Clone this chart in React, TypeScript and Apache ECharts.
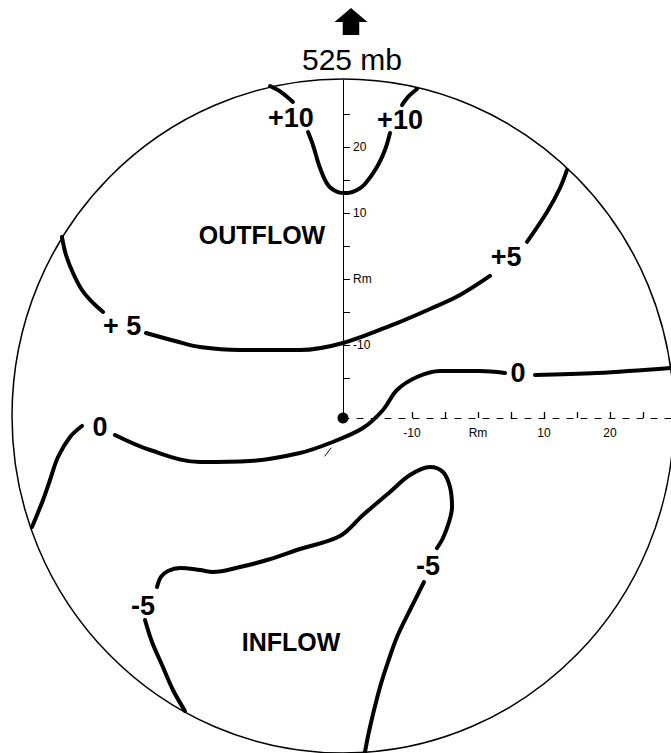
import React, { useEffect, useRef } from "react";
import * as echarts from "echarts";

// Data frame: units of the figure's distance scale, origin at the storm centre, y up.
const plus10West = [[-11.06, 50.3], [-9.39, 49.39], [-7.58, 47.88]];
const plus10Trough = [
  [-5.3, 43.33], [-4.55, 41.36], [-3.48, 37.88], [-2.27, 35.3], [-0.76, 34.24],
  [0.61, 34.09], [2.12, 34.55], [3.33, 35.45], [5.15, 38.03], [6.36, 40.61], [7.12, 43.18],
];
const plus10East = [[8.94, 47.42], [10.0, 48.79], [11.21, 49.85]];

const plus5West = [
  [-42.58, 27.42], [-41.97, 24.7], [-40.91, 21.97], [-39.55, 19.39], [-38.03, 17.58], [-36.36, 16.06],
];
const plus5Middle = [
  [-29.85, 12.88], [-25.45, 11.67], [-21.67, 10.76], [-15.61, 10.3], [-6.52, 10.3], [0, 11.36],
  [8.18, 14.39], [13.18, 16.52], [17.73, 18.64], [22.27, 21.52],
];
const plus5East = [[27.88, 26.67], [30.91, 31.21], [32.88, 34.85], [33.94, 37.58]];

const zeroWest = [
  [-47.12, -16.52], [-45.45, -12.42], [-44.39, -9.39], [-43.18, -5.91], [-41.36, -2.88], [-39.55, -1.21],
];
const zeroMiddle = [
  [-34.55, -2.58], [-29.24, -4.85], [-21.67, -6.67], [-14.09, -6.52], [-6.52, -5.3], [-1.97, -3.79],
  [3.03, -1.52], [6.06, 1.21], [8.18, 4.24], [11.21, 6.21], [14.7, 7.12], [20.76, 7.12], [24.55, 6.82],
];
const zeroEast = [[29.09, 6.52], [38.48, 6.82], [49.55, 7.58]];

const minus5SouthWest = [
  [-30.0, -30.61], [-28.94, -33.94], [-27.42, -37.42], [-25.76, -41.21], [-23.94, -44.39],
];
const minus5Loop = [
  [-28.18, -25.61], [-27.58, -24.09], [-26.52, -23.18], [-24.7, -22.73], [-21.67, -23.03],
  [-19.7, -23.33], [-15.61, -22.58], [-11.52, -21.52], [-6.52, -19.85], [-0.45, -17.88],
  [3.03, -14.7], [7.12, -11.21], [10.15, -8.64], [13.18, -7.42], [15.15, -8.18], [16.21, -10.45],
  [16.52, -13.48], [16.06, -15.76], [15.15, -18.18], [14.24, -19.7],
];
const minus5South = [
  [12.27, -24.85], [10.15, -29.09], [8.18, -33.18], [6.82, -36.97], [5.61, -40.76], [4.09, -46.82], [3.33, -50.61],
];

const contourLabels = [
  { text: "+10", pos: [-7.88, 45.45] },
  { text: "+10", pos: [8.64, 45.15] },
  { text: "+5", pos: [24.7, 24.39] },
  { text: "+ 5", pos: [-33.48, 13.94] },
  { text: "0", pos: [26.52, 6.82] },
  { text: "0", pos: [-36.82, -1.36] },
  { text: "-5", pos: [12.88, -22.42] },
  { text: "-5", pos: [-30.3, -28.48] },
];
const regionLabels = [
  { text: "OUTFLOW", pos: [-12.27, 27.73] },
  { text: "INFLOW", pos: [-7.88, -33.94] },
];
const titleText = "525 mb";
const titlePos = [1.36, 54.39];
const arrowPos = [1.21, 60.08];
const stormCentre = [0, 0];
const slashMark = [[-2.73, -5.76], [-1.82, -4.55]];

// Frame (ellipse) centre and semi-axes in data units
const frameCentre = [0, 0.3];
const frameRadii = [50.15, 51.06];

// Axis scales relative to Rm
const radialTicks = [-15, -10, -5, 0, 5, 10, 15, 20, 25];
const radialLabels = [-10, 0, 10, 20];
const tangentialTicks = [-10, -5, 0, 5, 10, 15, 20, 25];
const tangentialLabels = [-10, 0, 10, 20];
const rmOffsetX = 20.45;
const rmOffsetY = 21.06;

const W = 671;
const H = 753;
const PX = 6.6;
const CX = 343;
const CY = 418;
const FONT = "'Liberation Sans', Arial, sans-serif";

const fmt = (v: any) => (Number(v) === 0 ? "Rm" : String(v));

export default function App() {
  const ref = useRef<HTMLDivElement>(null);
  useEffect(() => {
    if (!ref.current) return;
    const chart = echarts.init(ref.current, undefined, { renderer: "svg" });
    const lineS = (data: number[][], width = 4) => ({
      type: "line",
      xAxisIndex: 0,
      yAxisIndex: 0,
      data,
      smooth: 0.35,
      symbol: "none",
      silent: true,
      lineStyle: { color: "#000", width, cap: "round", join: "round", opacity: 1 },
      z: 5,
    });
    const contours = [
      plus10West, plus10Trough, plus10East,
      plus5West, plus5Middle, plus5East,
      zeroWest, zeroMiddle, zeroEast,
      minus5SouthWest, minus5Loop, minus5South,
    ];
    const textSeries = (items: { text: string; pos: number[] }[], fontSize: number, extra: any = {}) => ({
      type: "scatter",
      xAxisIndex: 0,
      yAxisIndex: 0,
      symbol: "circle",
      symbolSize: 1,
      silent: true,
      itemStyle: { color: "rgba(0,0,0,0)", opacity: 1 },
      data: items.map((d) => ({ name: d.text, value: d.pos })),
      label: {
        show: true,
        position: "inside",
        formatter: "{b}",
        color: "#000",
        opacity: 1,
        fontSize,
        fontWeight: "bold",
        fontFamily: FONT,
        ...extra,
      },
      z: 6,
    });
    const gridH = CY - 80;
    const gridW = W - CX;
    chart.setOption({
      animation: false,
      backgroundColor: "#fff",
      grid: [
        { left: 0, top: 0, width: W, height: H },
        { left: CX, top: 80, width: gridW, height: gridH },
      ],
      xAxis: [
        { type: "value", gridIndex: 0, min: -CX / PX, max: (W - CX) / PX, show: false },
        {
          type: "value",
          gridIndex: 1,
          min: -rmOffsetX,
          max: -rmOffsetX + gridW / PX,
          axisLine: { show: true, onZero: false, lineStyle: { color: "#000", width: 1, type: [6, 8] } },
          axisTick: { show: true, inside: true, length: 6, customValues: tangentialTicks, lineStyle: { color: "#000", width: 1.3 } },
          axisLabel: { show: true, customValues: tangentialLabels, formatter: fmt, color: "#000", fontSize: 12, fontFamily: FONT, margin: 9 },
          splitLine: { show: false },
        },
      ],
      yAxis: [
        { type: "value", gridIndex: 0, min: -(H - CY) / PX, max: CY / PX, show: false },
        {
          type: "value",
          gridIndex: 1,
          position: "left",
          min: -rmOffsetY,
          max: -rmOffsetY + gridH / PX,
          axisLine: { show: true, onZero: false, lineStyle: { color: "#000", width: 1 } },
          axisTick: { show: true, inside: true, length: 7, customValues: radialTicks, lineStyle: { color: "#000", width: 1 } },
          axisLabel: { show: true, inside: true, customValues: radialLabels, formatter: fmt, color: "#000", fontSize: 12, fontFamily: FONT, margin: 10 },
          splitLine: { show: false },
        },
      ],
      series: [
        ...contours.map((c) => lineS(c)),
        lineS(slashMark, 1),
        textSeries(contourLabels, 27),
        textSeries(regionLabels, 25),
        textSeries([{ text: titleText, pos: titlePos }], 30, { fontWeight: "normal" }),
        {
          type: "scatter",
          xAxisIndex: 0,
          yAxisIndex: 0,
          silent: true,
          symbol: "path://M16,0 L32,14 L24,14 L24,27 L8,27 L8,14 L0,14 Z",
          symbolSize: [33, 27],
          itemStyle: { color: "#000", opacity: 1 },
          data: [arrowPos],
          z: 6,
        },
        {
          type: "scatter",
          xAxisIndex: 0,
          yAxisIndex: 0,
          silent: true,
          symbol: "circle",
          symbolSize: 11,
          itemStyle: { color: "#000", opacity: 1 },
          data: [stormCentre],
          z: 7,
        },
      ],
    });
    const c = chart.convertToPixel({ gridIndex: 0 }, frameCentre) as number[];
    chart.setOption({
      graphic: [
        {
          type: "ellipse",
          shape: { cx: c[0], cy: c[1], rx: frameRadii[0] * PX, ry: frameRadii[1] * PX },
          style: { fill: "none", stroke: "#000", lineWidth: 1.5 },
          silent: true,
          z: 4,
        },
      ],
    });
    return () => chart.dispose();
  }, []);
  return (
    <div
      ref={ref}
      style={{ position: "absolute", left: 0, top: 0, width: W, height: H, background: "#fff" }}
    />
  );
}
